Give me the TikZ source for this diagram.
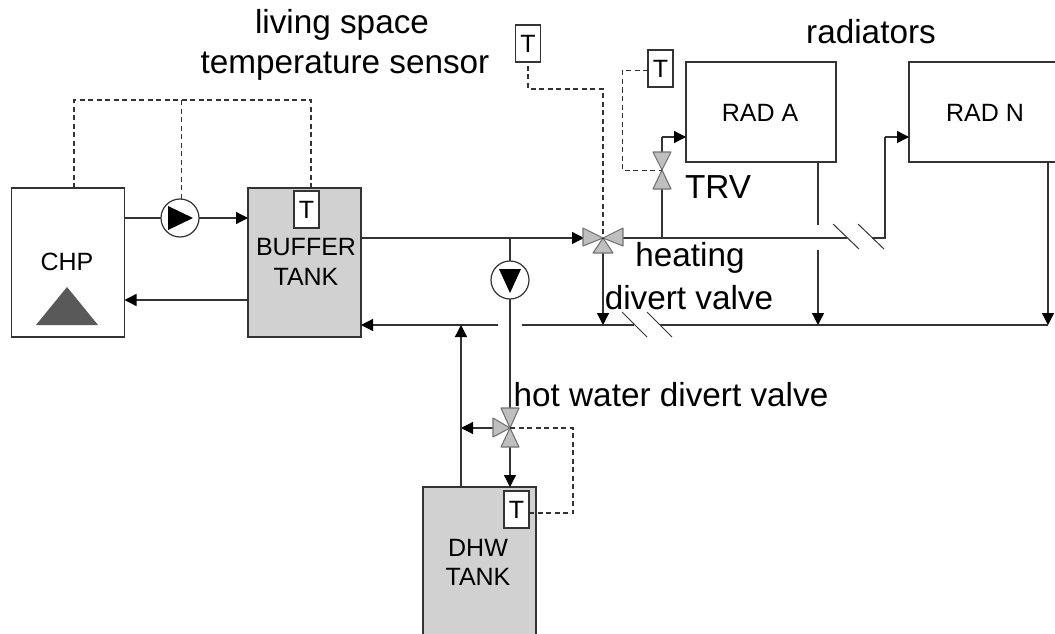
\documentclass[tikz,border=0pt]{standalone}
\usepackage{fontspec}
\setmainfont{Liberation Sans}
\usetikzlibrary{
    arrows.meta,
    positioning,
    calc
}
\tikzset{
    % Colors
    tank color/.style={fill=black!18},
    line color/.style={color=black!80},
    %
    % Boxes and text
    box/.style={draw,line color,text=black,line width=1.3pt,inner sep=0pt,outer sep=0pt,minimum width=#1},
    box/.default=113pt,
    sensor/.style={draw,line color,line width=1.2pt,fill=white,text=black,inner sep=0pt,outer sep=0pt,minimum width=25pt,minimum height=37pt,font=\fontsize{25}{25}\selectfont},
    big text/.style={font=\fontsize{33.3}{36}\selectfont,color=black},
    pumpring/.style={circle,draw,line color,line width=1.2pt,fill=white,inner sep=0pt,outer sep=0pt,minimum size=38pt},
    %
    % Arrows
    arrow tip/.tip={Triangle[length=12pt,width=12pt,black]},
    arr/.style={->,>={arrow tip},pipe},
    pipe/.style={line color,line width=1.3pt},
    signal/.style={line color,line width=1.2pt,dash pattern=on 5pt off 3.5pt},
    breakmark/.style={line color,line width=1pt},
    %
    % Valves
    valve part/.style={draw=black!55,line width=1.1pt,fill=black!25,line join=round},
    pump head/.style={fill=black}
}
\tikzstyle{every node}=[font=\fontsize{25}{30}\selectfont]

\begin{document}
\begin{tikzpicture}[x=1pt,y=-1pt]
    \useasboundingbox (0,0) rectangle (1055,634);
    % Tanks and radiators
    \node[box,minimum height=149pt] (chp) at (68,262.5) {};
    \node[box,tank color,minimum height=149pt] (buffer) at (304.5,262.5) {};
    \node[box,tank color,minimum height=150pt] (dhw) at (479.5,562) {};
    \node[box=150pt,minimum height=100pt] (rada) at (761,112) {};
    \node[box=150pt,minimum height=100pt] (radn) at (984,112) {};
    \node (chplabel) at (67,262) {CHP};
    \node (bufferlabel) at (306,247) {BUFFER};
    \node (tanklabel) at (306,277) {TANK};
    \node (dhwlabel) at (478,548) {DHW};
    \node (dhwtanklabel) at (478,577) {TANK};
    \node (radalabel) at (760,113) {RAD A};
    \node (radnlabel) at (985,113) {RAD N};
    \fill[black!65] (67,287) -- (98,325) -- (36,325) -- cycle;
    %
    % Sensors
    \node[sensor] (tbuffer) at (306.5,209.5) {T};
    \node[sensor] (tliving) at (528,43.5) {T};
    \node[sensor] (ttrv) at (660.5,68.5) {T};
    \node[sensor] (tdhw) at (516.5,509.5) {T};
    %
    % Pumps
    \node[pumpring] (pumpa) at (180,218) {};
    \node[pumpring] (pumpb) at (510,280) {};
    \fill[pump head] (168,206) -- (193,218) -- (168,230) -- cycle;
    \fill[pump head] (499,269) -- (521,269) -- (510,293) -- cycle;
    %
    % Junctions
    \coordinate (heatvalve) at (603,238);
    \coordinate (trvvalve) at (662,170);
    \coordinate (hotvalve) at (510,428);
    \coordinate (upperjoin) at (74,100);
    \coordinate (upperpump) at (181.5,100);
    \coordinate (uppertank) at (311,100);
    \coordinate (returnleft) at (498,325);
    \coordinate (returnright) at (522,325);
    \coordinate (returnbreaka) at (634,325);
    \coordinate (returnbreakb) at (660,325);
    \coordinate (flowbreaka) at (847,238);
    \coordinate (flowbreakb) at (872,238);
    %
    % Flow side
    \draw[pipe] (chp.east |- pumpa) -- (pumpa);
    \draw[arr] (pumpa) -- (buffer.west |- pumpa);
    \draw[arr] (buffer.west |- 0,300) -- (chp.east |- 0,300);
    \draw[pipe] (buffer.east |- heatvalve) -- (510,238);
    \draw[arr] (510,238) -- ($(heatvalve)+(-19,0)$);
    \draw[pipe] (heatvalve) -- (flowbreaka);
    \draw[pipe] (flowbreakb) -- (885,238) -- (885,137);
    \draw[arr] (885,137) -- (radn.west |- 0,137);
    \draw[pipe] (662,238) -- (trvvalve);
    \draw[pipe] (trvvalve) -- (662,137);
    \draw[arr] (662,137) -- (rada.west |- 0,137);
    \draw[pipe] (510,238) -- (pumpb);
    \draw[pipe] (pumpb) -- (hotvalve);
    \draw[arr] (hotvalve) -- (dhw.north -| hotvalve);
    \draw[arr] (hotvalve) -- (461,428);
    %
    % Return side
    \draw[arr] (returnleft) -- (buffer.east |- returnleft);
    \draw[arr] (dhw.north -| 461,0) -- (461,325);
    \draw[pipe] (returnright) -- (returnbreaka);
    \draw[pipe] (returnbreakb) -- (1048,325);
    \draw[arr] (603,253) -- (603,325);
    \draw[pipe] (rada.south -| 818,0) -- (818,225);
    \draw[arr] (818,250) -- (818,325);
    \draw[arr] (radn.south -| 1048,0) -- (1048,325);
    %
    % Pipe breaks
    \draw[breakmark] (622,312) -- (647,337);
    \draw[breakmark] (647,312) -- (672,337);
    \draw[breakmark] (833,224) -- (859,249);
    \draw[breakmark] (858,224) -- (884,249);
    %
    % Valves
    \draw[valve part] (heatvalve) -- ++(-20,-10) -- ++(0,18) -- cycle;
    \draw[valve part] (heatvalve) -- ++(20,-10) -- ++(0,18) -- cycle;
    \draw[valve part] (heatvalve) -- ++(-10,15) -- ++(20,0) -- cycle;
    \draw[valve part] (trvvalve) -- ++(-9,-18) -- ++(18,0) -- cycle;
    \draw[valve part] (trvvalve) -- ++(-9,19) -- ++(18,0) -- cycle;
    \draw[valve part] (hotvalve) -- ++(-9,-20) -- ++(18,0) -- cycle;
    \draw[valve part] (hotvalve) -- ++(-9,19) -- ++(18,0) -- cycle;
    \draw[valve part] (hotvalve) -- ++(-17,-10) -- ++(0,19) -- cycle;
    %
    % Signal lines
    \draw[signal] (chp.north -| upperjoin) -- (upperjoin) -- (uppertank) -- (buffer.north -| uppertank);
    \draw[signal] (upperpump) -- (upperpump |- pumpa.north);
    \draw[signal] (tliving.south) ++(0,4) |- (heatvalve |- 0,89) -- (heatvalve);
    \draw[signal] (ttrv.west |- 0,70.5) -- (622.5,70.5) -- (622.5,170.5) -- (trvvalve |- 0,170.5);
    \draw[signal] (hotvalve) -- (573,428) -- (573,513) -- (tdhw.east |- 0,513);
    %
    % Labels
    \node[big text] (livinglabel) at (342,25) {living space};
    \node[big text] (sensorlabel) at (345,66) {temperature sensor};
    \node[big text] (radiatorslabel) at (871,32) {radiators};
    \node[big text] (trvlabel) at (718,187) {TRV};
    \node[big text] (heatinglabel) at (690,258) {heating};
    \node[big text] (divertlabel) at (689,298) {divert valve};
    \node[big text] (hotlabel) at (671,395) {hot water divert valve};
\end{tikzpicture}
\end{document}
